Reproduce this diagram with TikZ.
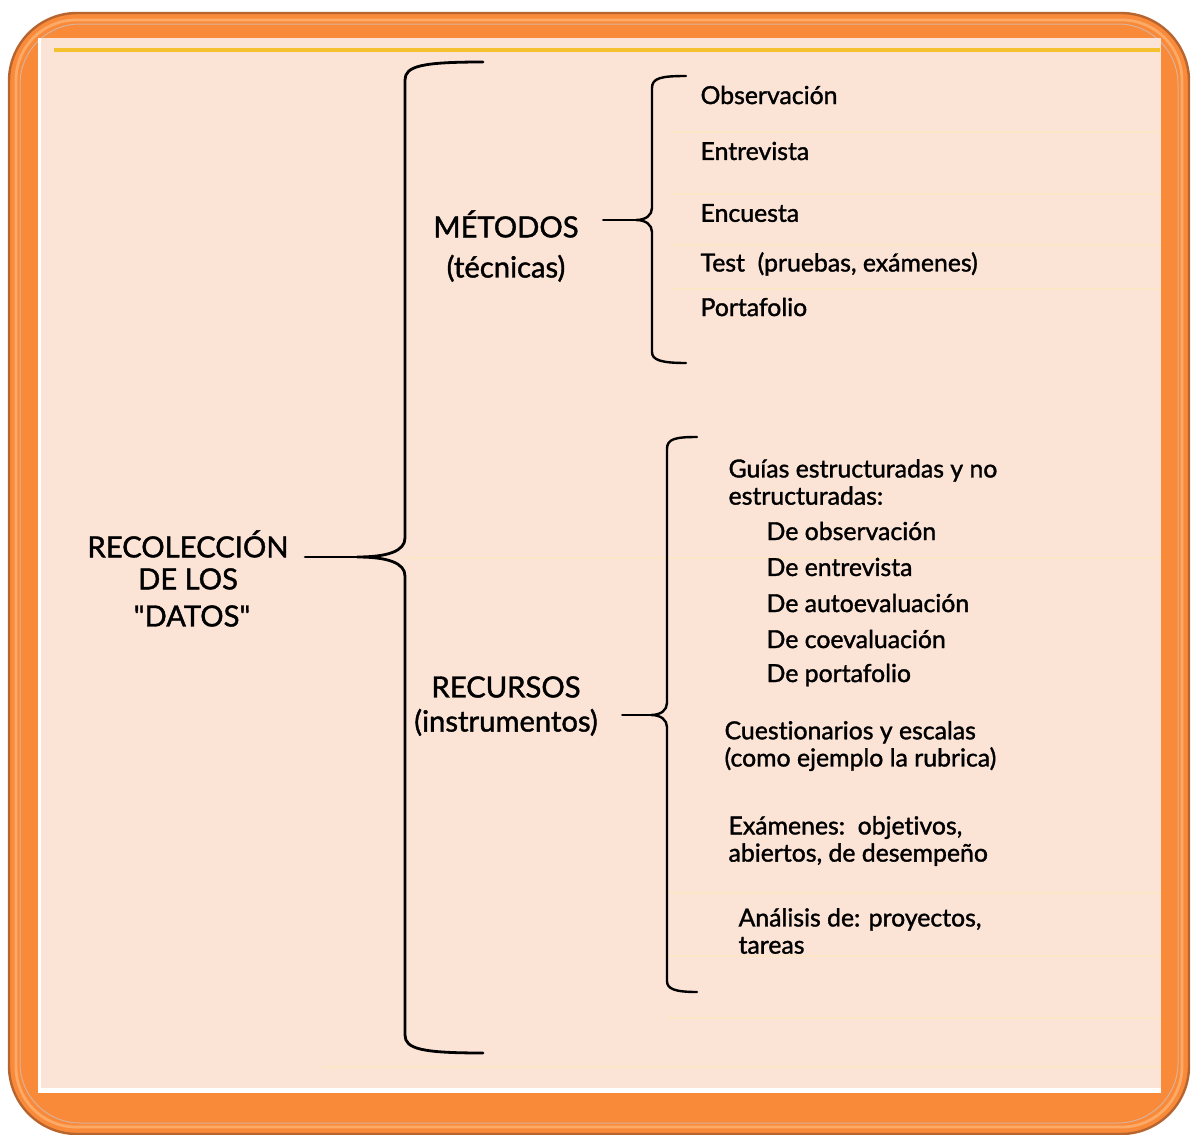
\documentclass[tikz,border=0pt]{standalone}
\usepackage{fontspec}
\setmainfont{Lato}[Ligatures=NoCommon, BoldFont=Lato, BoldFeatures={FakeBold=1.4}]
\usepackage{tikz}
\usetikzlibrary{calc,positioning}

\definecolor{frameorange}{HTML}{F98A3A}
\definecolor{framedark}{HTML}{B8642E}
\definecolor{framelight}{HTML}{FDAA66}
\definecolor{paper}{HTML}{FBE3D6}
\definecolor{ruleyellow}{HTML}{F6C12E}
\definecolor{gridline}{HTML}{FDE6C6}

\begin{document}
\begin{tikzpicture}[x=0.5pt, y=-0.5pt, semithick]

    \tikzstyle{lbl} = [anchor=west, inner sep=0pt, align=left, font=\fontsize{12.4}{13.6}\selectfont\bfseries]
    \tikzstyle{ttl} = [inner sep=0pt, align=center, font=\fontsize{14.6}{16}\selectfont\bfseries]
    \tikzstyle{brc} = [line width=1.4pt, line cap=round]
    \tikzstyle{grid} = [gridline, line width=0.8pt]

    \useasboundingbox (0,0) rectangle (1191,1135);

    % frame and page
    \fill[frameorange, draw=framedark, line width=1.2pt, rounded corners=34pt] (9,13) rectangle (1189,1134);
    \draw[framelight, line width=1.4pt, rounded corners=30pt] (16,20) rectangle (1182,1127);
    \draw[framedark!50, line width=0.5pt, rounded corners=30pt] (20,24) rectangle (1178,1123);
    \fill[white] (38,38) rectangle (1161,1093);
    \fill[paper] (41,38) rectangle (1161,1088);
    \draw[ruleyellow, line width=1.6pt] (54,50) -- (1160,50);

    % faint table rules
    \foreach \y in {132,194,245,289} \draw[grid] (672,\y) -- (1160,\y);
    \draw[grid] (405,558) -- (1160,558);
    \foreach \y in {893,956,1018} \draw[grid] (668,\y) -- (1160,\y);
    \draw[grid] (322,1067) -- (1160,1067);

    % left title
    \node (rec)     [ttl] at (188,560)             {RECOLECCIÓN\\DE LOS};
    \node (datos)   [ttl] at (192,616)             {\textquotedbl DATOS\textquotedbl};

    % branches
    \node (metodos) [ttl] at (506,224)             {MÉTODOS};
    \node (tecnicas)[ttl, below=8pt of metodos]    {(técnicas)};
    \node (recursos)[ttl] at (506,687)             {RECURSOS};
    \node (instr)   [ttl, below=5pt of recursos]   {(instrumentos)};

    \coordinate (tipA) at (357,557);
    \coordinate (tipB) at (636,220);
    \coordinate (tipC) at (651,715);

    % methods
    \node (obs)   [lbl] at (700,95)  {Observación};
    \node (ent)   [lbl] at (700,151) {Entrevista};
    \node (enc)   [lbl] at (700,213) {Encuesta};
    \node (test)  [lbl] at (700,264) {Test\ \ (pruebas, exámenes)};
    \node (port)  [lbl] at (700,307) {Portafolio};

    % resources
    \node (guias) [lbl] at (728,482) {Guías estructuradas y no\\estructuradas:};
    \node (dobs)  [lbl] at (766,531) {De observación};
    \node (dent)  [lbl] at (766,567) {De entrevista};
    \node (dauto) [lbl] at (766,603) {De autoevaluación};
    \node (dcoev) [lbl] at (766,639) {De coevaluación};
    \node (dport) [lbl] at (766,675) {De portafolio};
    \node (cuest) [lbl] at (724,746) {Cuestionarios y escalas\\(como ejemplo la rubrica)};
    \node (exam)  [lbl] at (728,841) {Exámenes:\ \ objetivos,\\abiertos, de desempeño};
    \node (anal)  [lbl] at (738,931) {Análisis de: proyectos,\\tareas};

    % braces
    \draw[brc] (483,62) .. controls (422,62) and (405,66) .. (405,80)
        -- (405,538) .. controls (405,551) and (388,557) .. (tipA)
        .. controls (388,557) and (405,563) .. (405,576)
        -- (405,1035) .. controls (405,1049) and (422,1053) .. (483,1053);
    \draw[brc, line width=1.2pt] (686,76) .. controls (661,76) and (652,78) .. (652,88)
        -- (652,208) .. controls (652,215) and (646,220) .. (tipB)
        .. controls (646,220) and (652,225) .. (652,232)
        -- (652,352) .. controls (652,360) and (661,363) .. (686,363);
    \draw[brc, line width=1.2pt] (697,437) .. controls (675,437) and (667,439) .. (667,449)
        -- (667,703) .. controls (667,710) and (661,715) .. (tipC)
        .. controls (661,715) and (667,720) .. (667,727)
        -- (667,981) .. controls (667,989) and (675,992) .. (697,992);

    \draw[brc, shorten <=8pt] (rec.east |- tipA) -- (tipA);
    \draw[brc, line width=1.2pt, shorten <=12pt] (metodos.east |- tipB) -- (tipB);
    \draw[brc, line width=1.2pt, shorten <=12pt] (instr.east |- tipC) -- (tipC);
\end{tikzpicture}
\end{document}
